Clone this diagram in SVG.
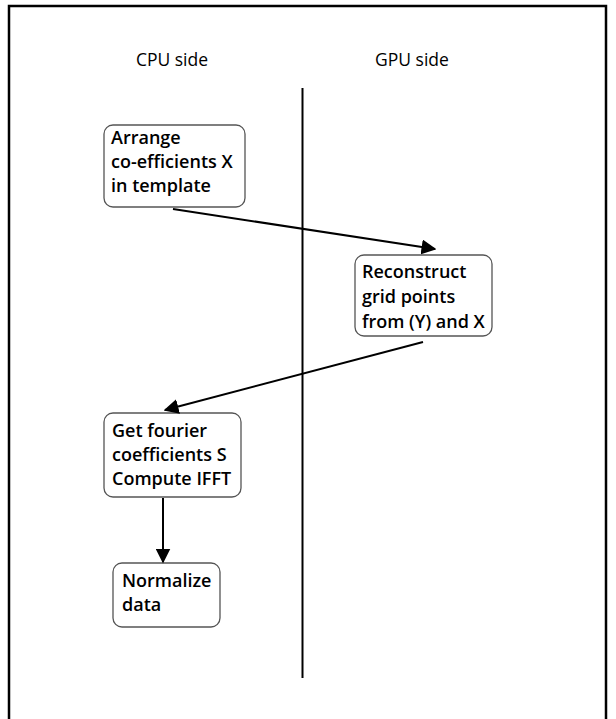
<svg xmlns="http://www.w3.org/2000/svg" width="616" height="719" viewBox="0 0 616 719">
  <style>
    .frame { fill: #ffffff; stroke: #000000; stroke-width: 2.5; }
    .lane { font-family: "Open Sans", "Liberation Sans", sans-serif; font-size: 17.5px; fill: #000000; }
    .box { fill: #ffffff; stroke: #555555; stroke-width: 1.3; }
    .label { font-family: "Open Sans", "Liberation Sans", sans-serif; font-size: 18px; font-weight: 600; fill: #000000; }
    .edge { stroke: #000000; stroke-width: 2; fill: none; }
  </style>
  <defs>
    <marker id="arrow" viewBox="0 0 10 10" refX="9" refY="5" markerWidth="7.5" markerHeight="7.5" markerUnits="strokeWidth" orient="auto">
      <path d="M0,0 L10,5 L0,10 z" fill="#000000"/>
    </marker>
  </defs>

  <!-- outer frame -->
  <rect class="frame" x="9" y="6" width="597" height="730"/>

  <!-- lane titles and divider -->
  <g id="lanes">
    <text class="lane" x="172" y="66" text-anchor="middle">CPU side</text>
    <text class="lane" x="412" y="66" text-anchor="middle">GPU side</text>
    <line x1="302.5" y1="88" x2="302.5" y2="678" stroke="#000000" stroke-width="2"/>
  </g>

  <g id="arrange">
    <rect class="box" x="104" y="125" width="141" height="82" rx="9"/>
    <text class="label" x="111" y="144">Arrange</text>
    <text class="label" x="111" y="168">co-efficients X</text>
    <text class="label" x="111" y="192">in template</text>
  </g>

  <g id="reconstruct">
    <rect class="box" x="355" y="255" width="137" height="81" rx="9"/>
    <text class="label" x="362" y="278">Reconstruct</text>
    <text class="label" x="362" y="303">grid points</text>
    <text class="label" x="362" y="328">from (Y) and X</text>
  </g>

  <g id="fourier">
    <rect class="box" x="104" y="413" width="137" height="84" rx="9"/>
    <text class="label" x="112" y="437">Get fourier</text>
    <text class="label" x="112" y="461">coefficients S</text>
    <text class="label" x="112" y="485">Compute IFFT</text>
  </g>

  <g id="normalize">
    <rect class="box" x="113" y="563" width="107" height="64" rx="9"/>
    <text class="label" x="122" y="587">Normalize</text>
    <text class="label" x="122" y="611">data</text>
  </g>

  <g id="connectors">
    <line class="edge" x1="173" y1="209" x2="435" y2="249" marker-end="url(#arrow)"/>
    <line class="edge" x1="423" y1="342" x2="165" y2="410" marker-end="url(#arrow)"/>
    <line class="edge" x1="163" y1="498" x2="163" y2="562" marker-end="url(#arrow)"/>
  </g>
</svg>
